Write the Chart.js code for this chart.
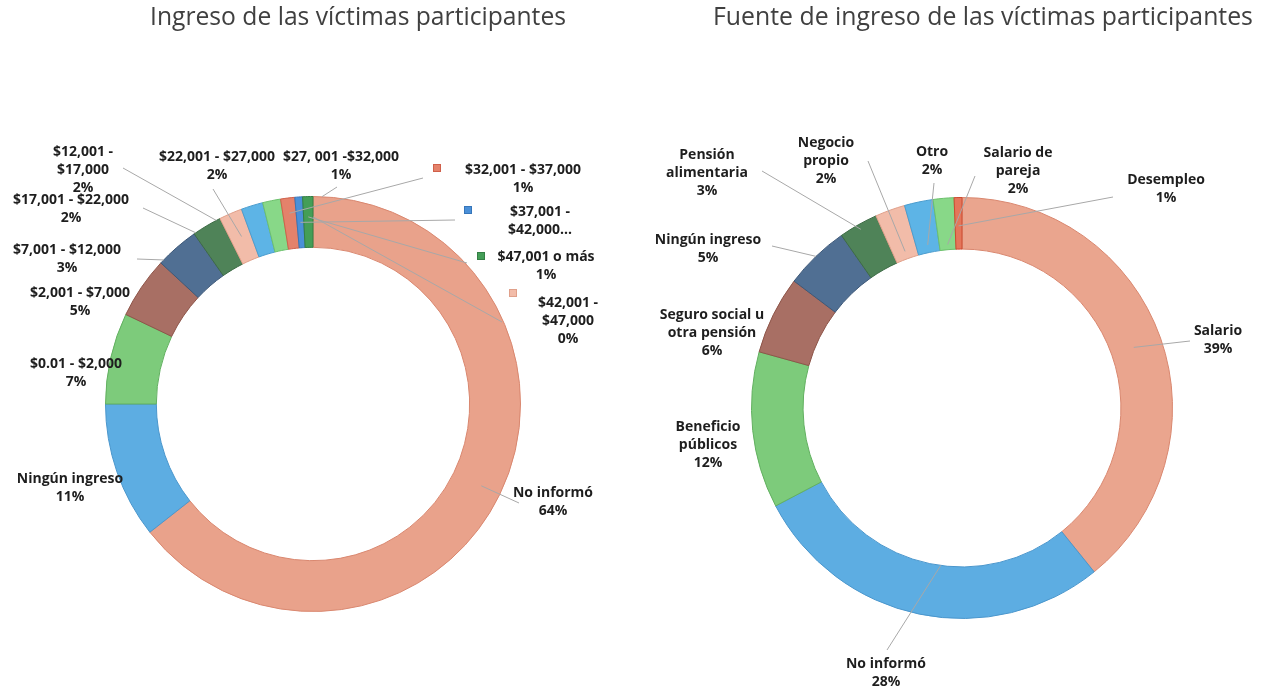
<!DOCTYPE html>
<html>
<head>
<meta charset="utf-8">
<script src="https://cdn.jsdelivr.net/npm/chart.js@4/dist/chart.umd.min.js"></script>
<style>
  html, body { margin: 0; padding: 0; background: #ffffff; }
  #wrap { position: relative; width: 1265px; height: 693px; overflow: hidden; }
  canvas { position: absolute; left: 0; top: 0; }
</style>
</head>
<body>
<div id="wrap">
  <canvas id="left" width="1265" height="693"></canvas>
  <canvas id="right" width="1265" height="693"></canvas>
</div>
<script>
// ---------------- DATA ----------------
const leftTitle = "Ingreso de las víctimas participantes";
const leftCategories = [
  "No informó", "Ningún ingreso", "$0.01 - $2,000", "$2,001 - $7,000", "$7,001 - $12,000",
  "$12,001 -\n$17,000", "$17,001 - $22,000", "$22,001 - $27,000", "$27, 001 -$32,000",
  "$32,001 - $37,000", "$37,001 -\n$42,000...", "$47,001 o más", "$42,001 -\n$47,000"
];
const leftValues = [64.4, 10.6, 7.1, 4.8, 3.4, 2.3, 1.8, 1.7, 1.4, 1.1, 0.6, 0.8, 0];

const rightTitle = "Fuente de ingreso de las víctimas participantes";
const rightCategories = [
  "Salario", "No informó", "Beneficio\npúblicos", "Seguro social u\notra pensión", "Ningún ingreso",
  "Pensión\nalimentaria", "Negocio\npropio", "Otro", "Salario de\npareja", "Desempleo"
];
const rightValues = [39.2, 28.1, 12.0, 6.0, 5.0, 3.0, 2.3, 2.2, 1.6, 0.6];

// ---------------- STYLE ----------------
const palette = ['#E9A28B', '#5DADE2', '#7DCB7B', '#A86F64', '#506F93', '#4F8358', '#F2BCA9', '#5DB4E6', '#88D888', '#E4826B', '#4A90D8', '#449E57', '#F2BCA9'];
const borders = ['#D9876F', '#4A96CC', '#62B060', '#8E5549', '#3D5878', '#3D6B45', '#E0A08A', '#4A9CCE', '#6CC06C', '#D0604A', '#3676BA', '#347F44', '#E0A08A'];
const rightFill = ['#EAA58E', '#5DADE2', '#7DCB7B', '#A86F64', '#506F93', '#4F8358', '#F2BCA9', '#5DB4E6', '#88D888', '#E4765A'];
const rightBorder = ['#D9876F', '#4A96CC', '#62B060', '#8E5549', '#3D5878', '#3D6B45', '#E0A08A', '#4A9CCE', '#6CC06C', '#CC4A30'];

const LABEL_FONT = '700 14px "Open Sans", "Noto Sans", sans-serif';
const TITLE_FONT_FAMILY = '"Open Sans", "Noto Sans", sans-serif';
const LINE_H = 18;

// label layout: text center x, first-line y, optional leader line start,
// ring fraction for line end (0 inner, 1 outer), angle offset in degrees, optional legend marker
const leftLayout = [
  { x: 553, y: 493, from: [519, 503], f: 0.6 },
  { x: 70,  y: 479 },
  { x: 76,  y: 364 },
  { x: 80,  y: 293 },
  { x: 67,  y: 250, from: [137, 259], f: 1.0, da: -5 },
  { x: 83,  y: 152, from: [123, 168], f: 1.0, da: 3 },
  { x: 71,  y: 200, from: [143, 208], f: 1.0, da: -11 },
  { x: 217, y: 157, from: [213, 189], f: 0.5, da: -6 },
  { x: 341, y: 157, from: [337, 187], f: 1.0, da: 14 },
  { x: 523, y: 170, from: [423, 178], f: 0.7 },
  { x: 540, y: 212, from: [455, 220], f: 0.5 },
  { x: 546, y: 257, from: [467, 263], f: 0.6 },
  { x: 568, y: 303, from: [502, 322], f: 0.6, marker: [513, 293] }
];
leftLayout[9].marker = [437, 168];
leftLayout[10].marker = [468, 210];
leftLayout[11].marker = [481, 256];

const rightLayout = [
  { x: 1218, y: 331, from: [1190, 341], f: 0.45 },
  { x: 886,  y: 664, from: [887, 650], f: 0.0, da: -4 },
  { x: 708,  y: 427 },
  { x: 712,  y: 315 },
  { x: 708,  y: 240, from: [772, 246], f: 1.0 },
  { x: 707,  y: 155, from: [762, 171], f: 0.9 },
  { x: 826,  y: 143, from: [868, 161], f: 0.15 },
  { x: 932,  y: 152, from: [934, 183], f: 0.15 },
  { x: 1018, y: 153, from: [975, 176], f: 0.1 },
  { x: 1166, y: 180, from: [1113, 197], f: 0.45 }
];

// ---------------- PLUGIN ----------------
const labelPlugin = {
  id: 'sliceLabels',
  afterDraw(chart, args, opts) {
    const ctx = chart.ctx;
    const meta = chart.getDatasetMeta(0);
    const values = chart.data.datasets[0].data;
    const total = values.reduce((a, b) => a + b, 0);
    const cats = chart.data.labels;
    ctx.save();

    // title
    ctx.fillStyle = '#404040';
    ctx.textAlign = 'center';
    ctx.textBaseline = 'middle';
    let size = 20;
    ctx.font = '400 ' + size + 'px ' + TITLE_FONT_FAMILY;
    const w = ctx.measureText(opts.title).width;
    size = size * opts.titleWidth / w;
    ctx.font = '400 ' + size.toFixed(2) + 'px ' + TITLE_FONT_FAMILY;
    ctx.fillText(opts.title, opts.titleX, opts.titleY);

    // leader lines
    ctx.strokeStyle = '#A8A8A8';
    ctx.lineWidth = 1;
    meta.data.forEach((arc, i) => {
      const L = opts.layout[i];
      if (!L || !L.from) return;
      const p = arc.getProps(['x', 'y', 'startAngle', 'endAngle', 'innerRadius', 'outerRadius'], true);
      const mid = (p.startAngle + p.endAngle) / 2 + (L.da || 0) * Math.PI / 180;
      const r = p.innerRadius + (p.outerRadius - p.innerRadius) * L.f;
      const ex = p.x + Math.cos(mid) * r;
      const ey = p.y + Math.sin(mid) * r;
      ctx.beginPath();
      ctx.moveTo(L.from[0], L.from[1]);
      ctx.lineTo(ex, ey);
      ctx.stroke();
    });

    // legend markers
    meta.data.forEach((arc, i) => {
      const L = opts.layout[i];
      if (!L || !L.marker) return;
      ctx.fillStyle = opts.fills[i];
      ctx.strokeStyle = opts.strokes[i];
      ctx.fillRect(L.marker[0] - 4, L.marker[1] - 4, 8, 8);
      ctx.strokeRect(L.marker[0] - 3.5, L.marker[1] - 3.5, 7, 7);
    });

    // text
    ctx.font = LABEL_FONT;
    ctx.fillStyle = '#1e1e1e';
    ctx.textAlign = 'center';
    ctx.textBaseline = 'middle';
    cats.forEach((c, i) => {
      const L = opts.layout[i];
      if (!L) return;
      const lines = c.split('\n');
      if (!c.endsWith('...')) lines.push(Math.round(values[i] / total * 100) + '%');
      lines.forEach((t, k) => ctx.fillText(t, L.x, L.y + k * LINE_H));
    });
    ctx.restore();
  }
};

function makeChart(id, cats, vals, fills, strokes, padding, layout, title, titleX, titleY, titleWidth) {
  return new Chart(document.getElementById(id), {
    type: 'doughnut',
    data: {
      labels: cats,
      datasets: [{
        data: vals,
        backgroundColor: fills.slice(0, vals.length),
        borderColor: strokes.slice(0, vals.length),
        borderWidth: 1
      }]
    },
    options: {
      responsive: false,
      animation: false,
      events: [],
      cutout: '75.5%',
      layout: { padding: padding },
      plugins: {
        legend: { display: false },
        tooltip: { enabled: false },
        title: { display: false },
        sliceLabels: { layout, fills, strokes, title, titleX, titleY, titleWidth }
      }
    },
    plugins: [labelPlugin]
  });
}

makeChart('left', leftCategories, leftValues, palette, borders,
  { left: 105, right: 744, top: 196, bottom: 81 }, leftLayout,
  leftTitle, 358, 18, 416);
makeChart('right', rightCategories, rightValues, rightFill, rightBorder,
  { left: 751, right: 92, top: 197, bottom: 74 }, rightLayout,
  rightTitle, 983, 18, 540);
</script>
</body>
</html>
